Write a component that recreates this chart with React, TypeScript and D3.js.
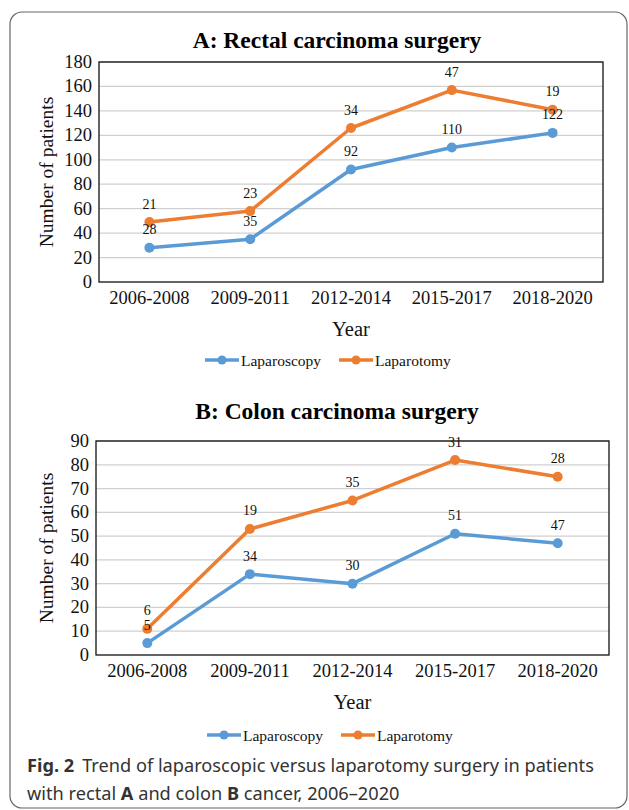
import * as d3 from 'd3'

const periods = ['2006-2008', '2009-2011', '2012-2014', '2015-2017', '2018-2020']

// counts per period; laparotomy is stacked on top of laparoscopy in the plot
const rectalLaparoscopy = [28, 35, 92, 110, 122]
const rectalLaparotomy = [21, 23, 34, 47, 19]
const colonLaparoscopy = [5, 34, 30, 51, 47]
const colonLaparotomy = [6, 19, 35, 31, 28]

const rectalTicks = [0, 20, 40, 60, 80, 100, 120, 140, 160, 180]
const colonTicks = [0, 10, 20, 30, 40, 50, 60, 70, 80, 90]

const BLUE = '#5B9BD5'
const ORANGE = '#ED7D31'
const SERIF = '"Liberation Serif", "Times New Roman", serif'
const SANS = '"Noto Sans", "Open Sans", sans-serif'

interface PanelProps {
  title: string
  lap: number[]
  open: number[]
  ticks: number[]
  left: number
  right: number
  top: number
  bottom: number
  titleY: number
  legendY: number
  legendX: number
}

function Panel({ title, lap, open, ticks, left, right, top, bottom, titleY, legendY, legendX }: PanelProps) {
  const x = d3.scaleBand<string>().domain(periods).range([left, right])
  const y = d3.scaleLinear().domain([0, ticks[ticks.length - 1]]).range([bottom, top])
  const cx = (p: string) => (x(p) ?? 0) + x.bandwidth() / 2
  const stacked = lap.map((v, i) => v + open[i])

  const line = d3.line<number>().x((_, i) => cx(periods[i])).y(d => y(d))

  const series = [
    { name: 'Laparoscopy', color: BLUE, values: lap, labels: lap },
    { name: 'Laparotomy', color: ORANGE, values: stacked, labels: open },
  ]

  return (
    <g>
      <text x={337} y={titleY} textAnchor="middle" dominantBaseline="central"
        fontFamily={SERIF} fontSize={23.5} fontWeight="bold">{title}</text>

      {ticks.map(t => (
        <g key={t}>
          {t > 0 && <line x1={left} x2={right} y1={y(t)} y2={y(t)} stroke="#d0d0d0" strokeWidth={1.3} />}
          <text x={left - 7} y={y(t)} textAnchor="end" dominantBaseline="central"
            fontFamily={SERIF} fontSize={18.5} fill="#111">{t}</text>
        </g>
      ))}
      <rect x={left} y={top} width={right - left} height={bottom - top} fill="none" stroke="#111" strokeWidth={1.3} />

      {periods.map(p => (
        <text key={p} x={cx(p)} y={bottom + 16} textAnchor="middle" dominantBaseline="central"
          fontFamily={SERIF} fontSize={18.5} fill="#111">{p}</text>
      ))}
      <text x={(left + right) / 2} y={bottom + 47} textAnchor="middle" dominantBaseline="central"
        fontFamily={SERIF} fontSize={20.5} fill="#111">Year</text>
      <text transform={`translate(46, ${(top + bottom) / 2}) rotate(-90)`} textAnchor="middle" dominantBaseline="central"
        fontFamily={SERIF} fontSize={19.5} fill="#111">Number of patients</text>

      {series.map(s => (
        <g key={s.name}>
          <path d={line(s.values) ?? ''} fill="none" stroke={s.color} strokeWidth={3.5} strokeLinejoin="round" />
          {s.values.map((v, i) => (
            <circle key={i} cx={cx(periods[i])} cy={y(v)} r={5} fill={s.color} />
          ))}
        </g>
      ))}
      {series.map(s => (
        <g key={s.name + '-labels'}>
          {s.values.map((v, i) => (
            <text key={i} x={cx(periods[i])} y={y(v) - 18} textAnchor="middle" dominantBaseline="central"
              fontFamily={SERIF} fontSize={14} fill="#111">{s.labels[i]}</text>
          ))}
        </g>
      ))}

      {series.map((s, i) => {
        const lx = legendX + i * 134
        return (
          <g key={s.name + '-legend'}>
            <line x1={lx} x2={lx + 34} y1={legendY} y2={legendY} stroke={s.color} strokeWidth={3.5} />
            <circle cx={lx + 17} cy={legendY} r={4.5} fill={s.color} />
            <text x={lx + 36} y={legendY} dominantBaseline="central" fontFamily={SERIF} fontSize={15.5} fill="#111">{s.name}</text>
          </g>
        )
      })}
    </g>
  )
}

export default function App() {
  return (
    <div style={{ position: 'absolute', left: 0, top: 0 }}>
      <svg width={629} height={810} style={{ display: 'block', background: '#fff' }}>
        <rect x={10} y={12} width={617} height={796} rx={12} fill="#fff" stroke="#666" strokeWidth={1.2} />
        <Panel title="A: Rectal carcinoma surgery" lap={rectalLaparoscopy} open={rectalLaparotomy} ticks={rectalTicks}
          left={99} right={603} top={62} bottom={282} titleY={40} legendY={360} legendX={205} />
        <Panel title="B: Colon carcinoma surgery" lap={colonLaparoscopy} open={colonLaparotomy} ticks={colonTicks}
          left={96} right={609} top={441} bottom={655} titleY={411} legendY={735} legendX={207} />
        <text x={27} y={765} dominantBaseline="central" fontFamily={SANS} fontSize={18.2} fill="#333">
          <tspan fontWeight="bold">Fig. 2</tspan>
          <tspan dx={8}>Trend of laparoscopic versus laparotomy surgery in patients</tspan>
        </text>
        <text x={27} y={793} dominantBaseline="central" fontFamily={SANS} fontSize={18.2} fill="#333">
          with rectal <tspan fontWeight="bold">A</tspan> and colon <tspan fontWeight="bold">B</tspan> cancer, 2006–2020
        </text>
      </svg>
    </div>
  )
}
